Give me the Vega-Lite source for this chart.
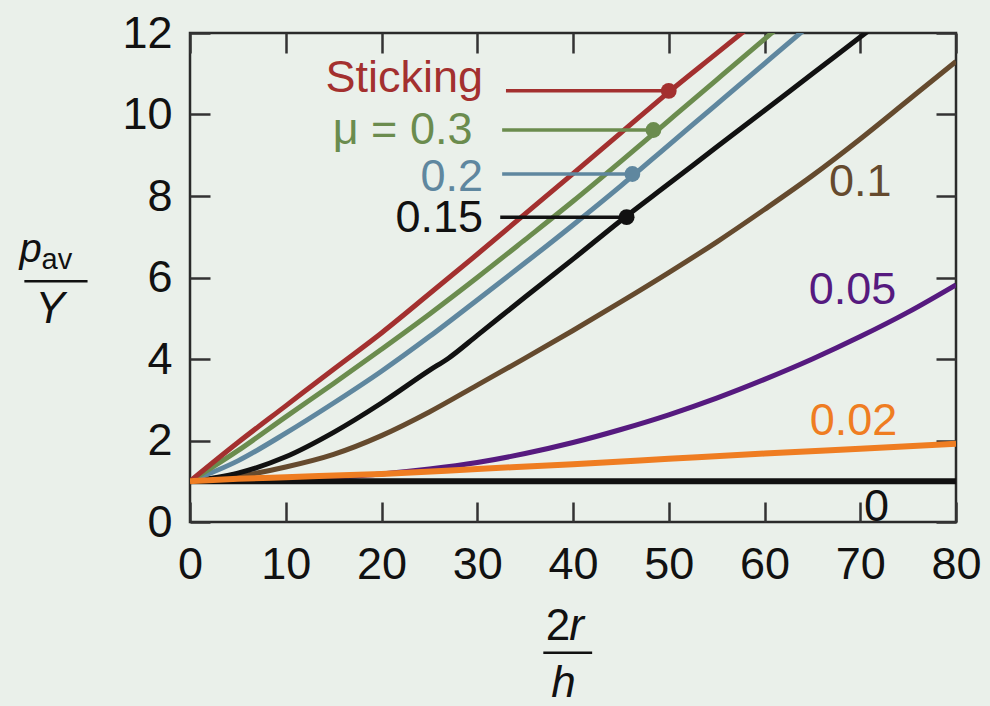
{
  "$schema": "https://vega.github.io/schema/vega-lite/v6.json",
  "width": 766,
  "height": 489,
  "autosize": {"type": "none"},
  "padding": {"left": 190, "top": 33, "right": 34, "bottom": 184},
  "background": "#eaf0ea",
  "config": {
    "view": {"stroke": "#2a2a2a", "strokeWidth": 2.5},
    "font": "Liberation Sans",
    "axis": {
      "domain": false,
      "grid": false,
      "tickSize": -20,
      "tickWidth": 2.5,
      "tickColor": "#333333",
      "labelFont": "Liberation Sans",
      "labelFontSize": 45,
      "labelColor": "#111111",
      "labelFlush": false,
      "labelOverlap": false,
      "title": null
    }
  },
  "datasets": {
    "curves": [
      {"s": "0", "x": 0, "y": 1}, {"s": "0", "x": 80, "y": 1},
      {"s": "0.05", "x": 0, "y": 1}, {"s": "0.05", "x": 5, "y": 1.01}, {"s": "0.05", "x": 10, "y": 1.04}, {"s": "0.05", "x": 15, "y": 1.1}, {"s": "0.05", "x": 20, "y": 1.18}, {"s": "0.05", "x": 25, "y": 1.3}, {"s": "0.05", "x": 30, "y": 1.46}, {"s": "0.05", "x": 35, "y": 1.68}, {"s": "0.05", "x": 40, "y": 1.95}, {"s": "0.05", "x": 45, "y": 2.27}, {"s": "0.05", "x": 50, "y": 2.63}, {"s": "0.05", "x": 55, "y": 3.04}, {"s": "0.05", "x": 60, "y": 3.5}, {"s": "0.05", "x": 65, "y": 4.0}, {"s": "0.05", "x": 70, "y": 4.55}, {"s": "0.05", "x": 75, "y": 5.15}, {"s": "0.05", "x": 80, "y": 5.82},
      {"s": "0.02", "x": 0, "y": 1}, {"s": "0.02", "x": 5, "y": 1.06}, {"s": "0.02", "x": 10, "y": 1.1}, {"s": "0.02", "x": 20, "y": 1.18}, {"s": "0.02", "x": 30, "y": 1.3}, {"s": "0.02", "x": 40, "y": 1.42}, {"s": "0.02", "x": 50, "y": 1.55}, {"s": "0.02", "x": 60, "y": 1.68}, {"s": "0.02", "x": 70, "y": 1.8}, {"s": "0.02", "x": 80, "y": 1.92},
      {"s": "0.1", "x": 0, "y": 1}, {"s": "0.1", "x": 5, "y": 1.12}, {"s": "0.1", "x": 10, "y": 1.35}, {"s": "0.1", "x": 15, "y": 1.66}, {"s": "0.1", "x": 20, "y": 2.12}, {"s": "0.1", "x": 25, "y": 2.7}, {"s": "0.1", "x": 30, "y": 3.36}, {"s": "0.1", "x": 35, "y": 4.02}, {"s": "0.1", "x": 40, "y": 4.7}, {"s": "0.1", "x": 45, "y": 5.4}, {"s": "0.1", "x": 50, "y": 6.12}, {"s": "0.1", "x": 55, "y": 6.87}, {"s": "0.1", "x": 60, "y": 7.67}, {"s": "0.1", "x": 65, "y": 8.5}, {"s": "0.1", "x": 70, "y": 9.4}, {"s": "0.1", "x": 75, "y": 10.35}, {"s": "0.1", "x": 80, "y": 11.3},
      {"s": "0.15", "x": 0, "y": 1}, {"s": "0.15", "x": 5, "y": 1.2}, {"s": "0.15", "x": 10, "y": 1.6}, {"s": "0.15", "x": 15, "y": 2.2}, {"s": "0.15", "x": 20, "y": 2.92}, {"s": "0.15", "x": 25, "y": 3.72}, {"s": "0.15", "x": 27, "y": 4.02}, {"s": "0.15", "x": 30, "y": 4.58}, {"s": "0.15", "x": 35, "y": 5.52}, {"s": "0.15", "x": 40, "y": 6.45}, {"s": "0.15", "x": 45, "y": 7.4}, {"s": "0.15", "x": 50, "y": 8.3}, {"s": "0.15", "x": 55, "y": 9.2}, {"s": "0.15", "x": 60, "y": 10.1}, {"s": "0.15", "x": 65, "y": 11.0}, {"s": "0.15", "x": 70, "y": 11.9}, {"s": "0.15", "x": 75, "y": 12.8},
      {"s": "0.2", "x": 0, "y": 1}, {"s": "0.2", "x": 5, "y": 1.5}, {"s": "0.2", "x": 10, "y": 2.18}, {"s": "0.2", "x": 15, "y": 2.92}, {"s": "0.2", "x": 20, "y": 3.7}, {"s": "0.2", "x": 25, "y": 4.55}, {"s": "0.2", "x": 30, "y": 5.45}, {"s": "0.2", "x": 35, "y": 6.36}, {"s": "0.2", "x": 40, "y": 7.29}, {"s": "0.2", "x": 45, "y": 8.25}, {"s": "0.2", "x": 50, "y": 9.25}, {"s": "0.2", "x": 55, "y": 10.25}, {"s": "0.2", "x": 60, "y": 11.25}, {"s": "0.2", "x": 65, "y": 12.25},
      {"s": "0.3", "x": 0, "y": 1}, {"s": "0.3", "x": 5, "y": 1.75}, {"s": "0.3", "x": 10, "y": 2.58}, {"s": "0.3", "x": 15, "y": 3.4}, {"s": "0.3", "x": 20, "y": 4.24}, {"s": "0.3", "x": 25, "y": 5.1}, {"s": "0.3", "x": 30, "y": 6.0}, {"s": "0.3", "x": 35, "y": 6.93}, {"s": "0.3", "x": 40, "y": 7.87}, {"s": "0.3", "x": 45, "y": 8.85}, {"s": "0.3", "x": 50, "y": 9.85}, {"s": "0.3", "x": 55, "y": 10.85}, {"s": "0.3", "x": 60, "y": 11.85}, {"s": "0.3", "x": 65, "y": 12.85},
      {"s": "Sticking", "x": 0, "y": 1}, {"s": "Sticking", "x": 5, "y": 1.95}, {"s": "Sticking", "x": 10, "y": 2.85}, {"s": "Sticking", "x": 15, "y": 3.75}, {"s": "Sticking", "x": 20, "y": 4.64}, {"s": "Sticking", "x": 25, "y": 5.6}, {"s": "Sticking", "x": 30, "y": 6.57}, {"s": "Sticking", "x": 35, "y": 7.56}, {"s": "Sticking", "x": 40, "y": 8.55}, {"s": "Sticking", "x": 45, "y": 9.55}, {"s": "Sticking", "x": 50, "y": 10.55}, {"s": "Sticking", "x": 55, "y": 11.5}, {"s": "Sticking", "x": 60, "y": 12.45}
    ],
    "markers": [
      {"s": "Sticking", "x0": 33.0, "x": 50.0, "y": 10.58},
      {"s": "0.3", "x0": 32.6, "x": 48.4, "y": 9.62},
      {"s": "0.2", "x0": 32.6, "x": 46.2, "y": 8.54},
      {"s": "0.15", "x0": 32.4, "x": 45.6, "y": 7.48}
    ],
    "leftLabels": [
      {"s": "Sticking", "label": "Sticking", "x": 30.6, "y": 10.9},
      {"s": "0.3", "label": "μ = 0.3", "x": 29.5, "y": 9.62},
      {"s": "0.2", "label": "0.2", "x": 30.6, "y": 8.47},
      {"s": "0.15", "label": "0.15", "x": 30.6, "y": 7.46}
    ],
    "rightLabels": [
      {"s": "0.1", "label": "0.1", "x": 70.0, "y": 8.34},
      {"s": "0.05", "label": "0.05", "x": 69.2, "y": 5.69},
      {"s": "0.02", "label": "0.02", "x": 69.3, "y": 2.48},
      {"s": "0", "label": "0", "x": 71.7, "y": 0.36}
    ]
  },
  "layer": [
    {
      "data": {"name": "curves"},
      "transform": [{"filter": "datum.s != '0' && datum.s != '0.02'"}],
      "mark": {"type": "line", "strokeWidth": 5, "clip": true, "interpolate": "monotone"},
      "encoding": {
        "x": {"field": "x", "type": "quantitative", "scale": {"domain": [0, 80], "nice": false, "zero": false},
              "axis": {"orient": "bottom", "values": [0, 10, 20, 30, 40, 50, 60, 70, 80], "labelPadding": 40}},
        "y": {"field": "y", "type": "quantitative", "scale": {"domain": [0, 12], "nice": false, "zero": false},
              "axis": {"orient": "left", "values": [0, 2, 4, 6, 8, 10, 12], "labelPadding": 38}},
        "color": {"field": "s", "type": "nominal", "legend": null,
                  "scale": {"domain": ["Sticking", "0.3", "0.2", "0.15", "0.1", "0.05", "0.02", "0"],
                            "range": ["#a3302f", "#6b8c4e", "#5f879f", "#111111", "#654a2e", "#561a7f", "#ef7d22", "#111111"]}}
      }
    },
    {
      "data": {"name": "curves"},
      "transform": [{"filter": "datum.s == '0' || datum.s == '0.02'"}],
      "mark": {"type": "line", "strokeWidth": 6, "clip": true, "interpolate": "monotone"},
      "encoding": {
        "x": {"field": "x", "type": "quantitative", "axis": null},
        "y": {"field": "y", "type": "quantitative", "axis": null},
        "color": {"field": "s", "type": "nominal", "legend": null}
      }
    },
    {
      "data": {"name": "markers"},
      "mark": {"type": "rule", "strokeWidth": 3.5},
      "encoding": {
        "x": {"field": "x0", "type": "quantitative", "axis": null},
        "x2": {"field": "x"},
        "y": {"field": "y", "type": "quantitative", "axis": null},
        "color": {"field": "s", "type": "nominal", "legend": null}
      }
    },
    {
      "data": {"name": "markers"},
      "mark": {"type": "point", "filled": true, "opacity": 1, "size": 250},
      "encoding": {
        "x": {"field": "x", "type": "quantitative",
              "axis": {"orient": "top", "values": [0, 10, 20, 30, 40, 50, 60, 70, 80], "labels": false}},
        "y": {"field": "y", "type": "quantitative",
              "axis": {"orient": "right", "values": [0, 2, 4, 6, 8, 10, 12], "labels": false}},
        "color": {"field": "s", "type": "nominal", "legend": null}
      }
    },
    {
      "data": {"name": "leftLabels"},
      "mark": {"type": "text", "align": "right", "baseline": "middle", "fontSize": 45, "font": "Liberation Sans"},
      "encoding": {
        "x": {"field": "x", "type": "quantitative", "axis": null},
        "y": {"field": "y", "type": "quantitative", "axis": null},
        "text": {"field": "label"},
        "color": {"field": "s", "type": "nominal", "legend": null}
      }
    },
    {
      "data": {"name": "rightLabels"},
      "mark": {"type": "text", "align": "center", "baseline": "middle", "fontSize": 45, "font": "Liberation Sans"},
      "encoding": {
        "x": {"field": "x", "type": "quantitative", "axis": null},
        "y": {"field": "y", "type": "quantitative", "axis": null},
        "text": {"field": "label"},
        "color": {"field": "s", "type": "nominal", "legend": null}
      }
    },
    {
      "data": {"values": [{"t": "p"}]},
      "mark": {"type": "text", "align": "left", "baseline": "alphabetic", "fontSize": 40, "fontStyle": "italic", "color": "#111111", "clip": false},
      "encoding": {"x": {"datum": -17.8, "type": "quantitative", "axis": null}, "y": {"datum": 6.38, "type": "quantitative", "axis": null}, "text": {"field": "t"}}
    },
    {
      "data": {"values": [{"t": "av"}]},
      "mark": {"type": "text", "align": "left", "baseline": "alphabetic", "fontSize": 29, "color": "#111111", "clip": false},
      "encoding": {"x": {"datum": -15.5, "type": "quantitative", "axis": null}, "y": {"datum": 6.2, "type": "quantitative", "axis": null}, "text": {"field": "t"}}
    },
    {
      "data": {"values": [{"t": "Y"}]},
      "mark": {"type": "text", "align": "center", "baseline": "alphabetic", "fontSize": 44, "fontStyle": "italic", "color": "#111111", "clip": false},
      "encoding": {"x": {"datum": -14.6, "type": "quantitative", "axis": null}, "y": {"datum": 4.88, "type": "quantitative", "axis": null}, "text": {"field": "t"}}
    },
    {
      "data": {"values": [{"t": "bar"}]},
      "mark": {"type": "rule", "strokeWidth": 2.5, "color": "#111111", "clip": false},
      "encoding": {"x": {"datum": -17.3, "type": "quantitative", "axis": null}, "x2": {"datum": -10.7}, "y": {"datum": 5.91, "type": "quantitative", "axis": null}}
    },
    {
      "data": {"values": [{"t": "2"}]},
      "mark": {"type": "text", "align": "right", "baseline": "alphabetic", "fontSize": 44, "color": "#111111", "clip": false},
      "encoding": {"x": {"datum": 39.7, "type": "quantitative", "axis": null}, "y": {"datum": -2.9, "type": "quantitative", "axis": null}, "text": {"field": "t"}}
    },
    {
      "data": {"values": [{"t": "r"}]},
      "mark": {"type": "text", "align": "left", "baseline": "alphabetic", "fontSize": 44, "fontStyle": "italic", "color": "#111111", "clip": false},
      "encoding": {"x": {"datum": 39.6, "type": "quantitative", "axis": null}, "y": {"datum": -2.9, "type": "quantitative", "axis": null}, "text": {"field": "t"}}
    },
    {
      "data": {"values": [{"t": "bar"}]},
      "mark": {"type": "rule", "strokeWidth": 2.5, "color": "#111111", "clip": false},
      "encoding": {"x": {"datum": 36.9, "type": "quantitative", "axis": null}, "x2": {"datum": 42.0}, "y": {"datum": -3.21, "type": "quantitative", "axis": null}}
    },
    {
      "data": {"values": [{"t": "h"}]},
      "mark": {"type": "text", "align": "center", "baseline": "alphabetic", "fontSize": 44, "fontStyle": "italic", "color": "#111111", "clip": false},
      "encoding": {"x": {"datum": 39.0, "type": "quantitative", "axis": null}, "y": {"datum": -4.29, "type": "quantitative", "axis": null}, "text": {"field": "t"}}
    }
  ],
  "resolve": {"axis": {"x": "independent", "y": "independent"}}
}
